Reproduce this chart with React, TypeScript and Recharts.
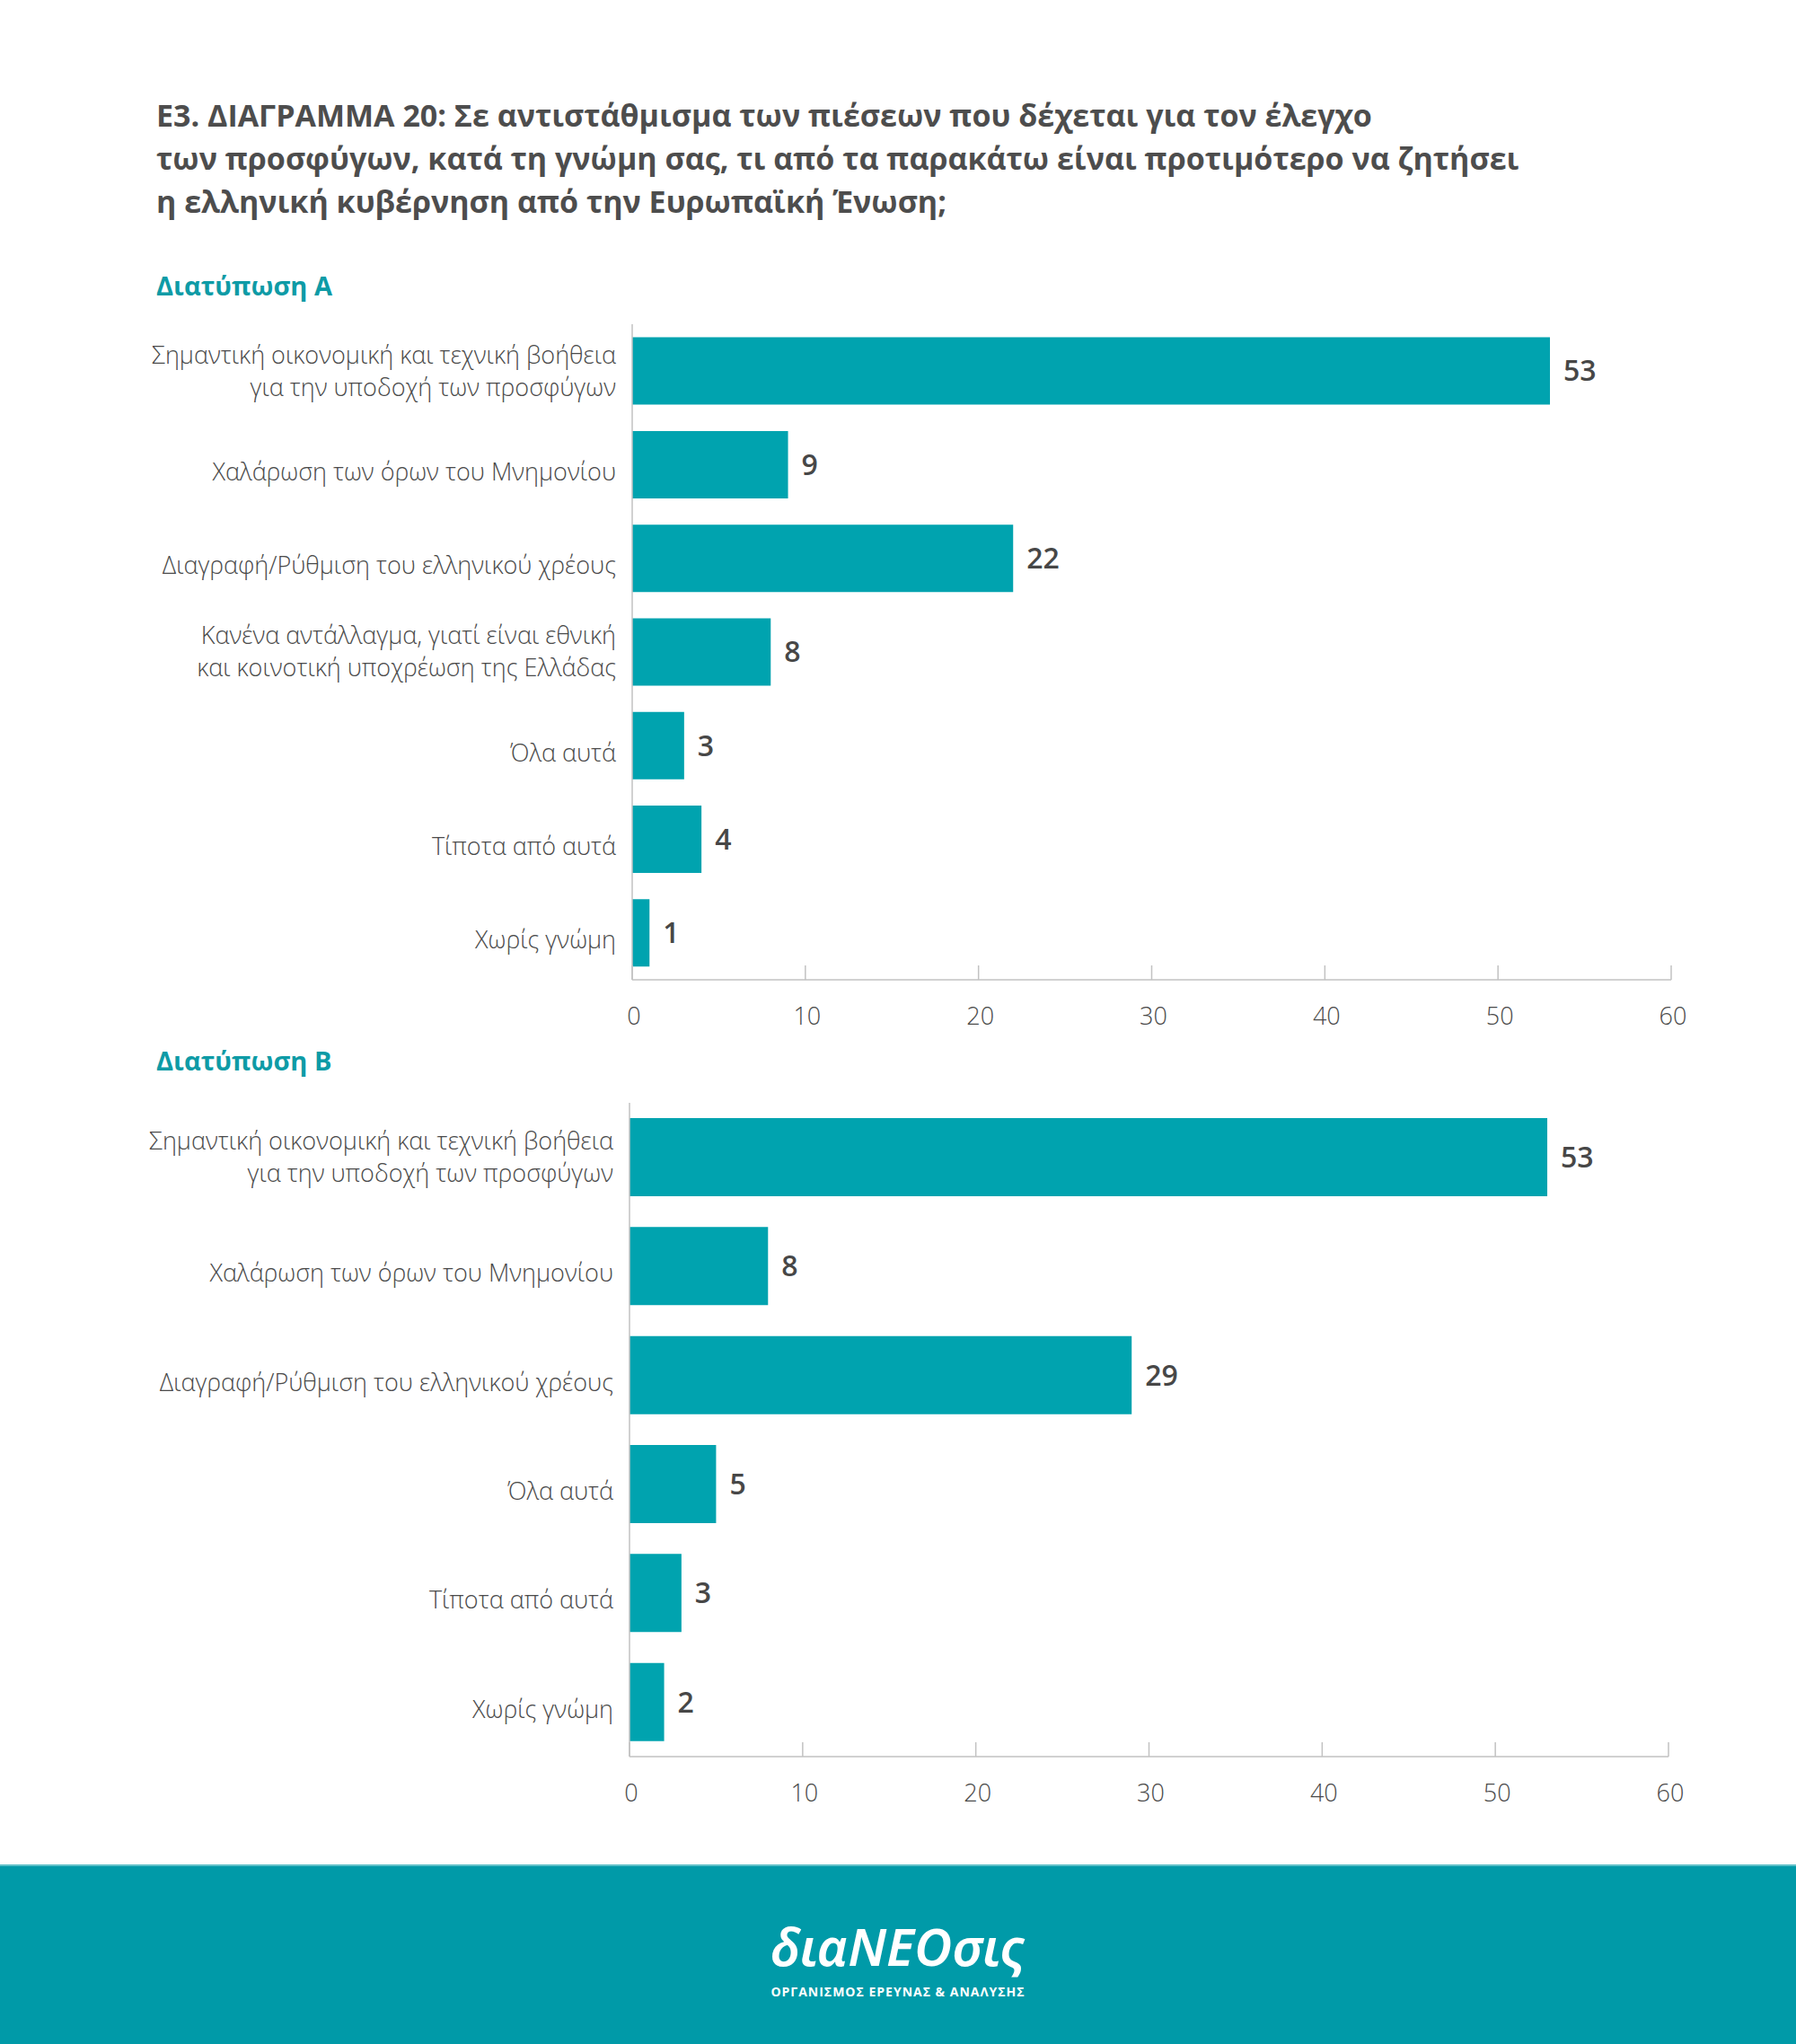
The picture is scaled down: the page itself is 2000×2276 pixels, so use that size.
import React from 'react';
import { BarChart, Bar, XAxis, YAxis, LabelList } from 'recharts';

const titleLines = [
  'Ε3. ΔΙΑΓΡΑΜΜΑ 20: Σε αντιστάθμισμα των πιέσεων που δέχεται για τον έλεγχο',
  'των προσφύγων, κατά τη γνώμη σας, τι από τα παρακάτω είναι προτιμότερο να ζητήσει',
  'η ελληνική κυβέρνηση από την Ευρωπαϊκή Ένωση;',
];
const subtitleA = 'Διατύπωση Α';
const subtitleB = 'Διατύπωση Β';

const categoriesA = [
  'Σημαντική οικονομική και τεχνική βοήθεια\nγια την υποδοχή των προσφύγων',
  'Χαλάρωση των όρων του Μνημονίου',
  'Διαγραφή/Ρύθμιση του ελληνικού χρέους',
  'Κανένα αντάλλαγμα, γιατί είναι εθνική\nκαι κοινοτική υποχρέωση της Ελλάδας',
  'Όλα αυτά',
  'Τίποτα από αυτά',
  'Χωρίς γνώμη',
];
const valuesA = [53, 9, 22, 8, 3, 4, 1];

const categoriesB = [
  'Σημαντική οικονομική και τεχνική βοήθεια\nγια την υποδοχή των προσφύγων',
  'Χαλάρωση των όρων του Μνημονίου',
  'Διαγραφή/Ρύθμιση του ελληνικού χρέους',
  'Όλα αυτά',
  'Τίποτα από αυτά',
  'Χωρίς γνώμη',
];
const valuesB = [53, 8, 29, 5, 3, 2];

const xTicks = [0, 10, 20, 30, 40, 50, 60];

const logoText = 'διαNEOσις';
const logoSub = 'ΟΡΓΑΝΙΣΜΟΣ ΕΡΕΥΝΑΣ & ΑΝΑΛΥΣΗΣ';

const dataA = categoriesA.map((name, i) => ({ name, value: valuesA[i] }));
const dataB = categoriesB.map((name, i) => ({ name, value: valuesB[i] }));

const TEAL = '#00a3af';
const TEAL_DARK = '#0e9ba6';
const FOOTER = '#009aa8';
const TEXT = '#4a4a4a';
const TITLE = '#4d4d4d';
const AXIS = '#c2c2c2';
const FONT = '"Open Sans", "Noto Sans", sans-serif';

const YTick = (props: any) => {
  const { x, y, payload } = props;
  const lines = String(payload.value).split('\n');
  const lh = 36;
  const start = y - ((lines.length - 1) * lh) / 2 + (lines.length === 1 ? 8 : 0);
  return (
    <text
      x={x}
      y={start}
      textAnchor="end"
      fill={TEXT}
      fontSize={27}
      fontFamily={FONT}
      fontWeight={300}
    >
      {lines.map((l, i) => (
        <tspan key={i} x={x} dy={i === 0 ? '0.35em' : lh}>
          {l}
        </tspan>
      ))}
    </text>
  );
};

const XTick = (props: any) => {
  const { x, y, payload } = props;
  return (
    <g>
      <line x1={x} x2={x} y1={y - 16} y2={y} stroke={AXIS} strokeWidth={1.5} />
      <text
        x={x + 2}
        y={y + 41}
        dy="0.35em"
        textAnchor="middle"
        fill={TEXT}
        fontSize={27}
        fontFamily={FONT}
        fontWeight={300}
      >
        {payload.value}
      </text>
    </g>
  );
};

const Chart = ({ data, margin }: { data: any[]; margin: any }) => (
  <BarChart
    width={2000}
    height={840}
    data={data}
    layout="vertical"
    margin={margin}
    barCategoryGap="14%"
  >
    <XAxis
      type="number"
      domain={[0, 60]}
      ticks={xTicks}
      height={60}
      tickSize={0}
      tickMargin={0}
      tickLine={false}
      axisLine={{ stroke: AXIS, strokeWidth: 1.5 }}
      tick={<XTick />}
      interval={0}
    />
    <YAxis
      type="category"
      dataKey="name"
      width={520}
      tickSize={0}
      tickMargin={18}
      tickLine={false}
      axisLine={{ stroke: AXIS, strokeWidth: 1.5 }}
      tick={<YTick />}
      interval={0}
    />
    <Bar dataKey="value" fill={TEAL} isAnimationActive={false}>
      <LabelList
        dataKey="value"
        position="right"
        offset={15}
        fill="#474747"
        fontSize={32}
        fontWeight={600}
        fontFamily={FONT}
      />
    </Bar>
  </BarChart>
);

export default function App() {
  return (
    <div style={{ position: 'relative', width: 2000, height: 2276, background: '#fff', overflow: 'hidden', fontFamily: FONT }}>
      <style>{'body{margin:0}'}</style>
      <div
        style={{
          position: 'absolute',
          left: 174,
          top: 104,
          fontSize: 34,
          lineHeight: '48px',
          fontWeight: 700,
          color: TITLE,
          whiteSpace: 'nowrap',
        }}
      >
        {titleLines.map((l, i) => (
          <div key={i}>{l}</div>
        ))}
      </div>
      <div style={{ position: 'absolute', left: 174, top: 298, fontSize: 29, lineHeight: '40px', fontWeight: 700, color: TEAL_DARK }}>
        {subtitleA}
      </div>
      <div style={{ position: 'absolute', left: 174, top: 1161, fontSize: 29, lineHeight: '40px', fontWeight: 700, color: TEAL_DARK }}>
        {subtitleB}
      </div>
      <div style={{ position: 'absolute', left: 0, top: 340 }}>
        <Chart data={dataA} margin={{ top: 21, right: 139, bottom: 29, left: 184 }} />
      </div>
      <div style={{ position: 'absolute', left: 0, top: 1200 }}>
        <Chart data={dataB} margin={{ top: 28, right: 142, bottom: 24, left: 181 }} />
      </div>
      <div
        style={{
          position: 'absolute',
          left: 0,
          top: 2076,
          width: 2000,
          height: 200,
          background: FOOTER,
          borderTop: '2px solid #5fc0c8',
          boxSizing: 'border-box',
        }}
      >
        <div
          style={{
            position: 'absolute',
            left: 0,
            width: 2000,
            top: 54,
            textAlign: 'center',
            color: '#fff',
            fontSize: 58,
            lineHeight: '70px',
            fontStyle: 'italic',
            fontWeight: 600,
            fontFamily: '"Noto Sans", sans-serif',
          }}
        >
          {logoText}
        </div>
        <div
          style={{
            position: 'absolute',
            left: 0,
            width: 2000,
            top: 130,
            textAlign: 'center',
            color: '#fff',
            fontSize: 14,
            lineHeight: '20px',
            fontWeight: 700,
            letterSpacing: 1,
          }}
        >
          {logoSub}
        </div>
      </div>
    </div>
  );
}
